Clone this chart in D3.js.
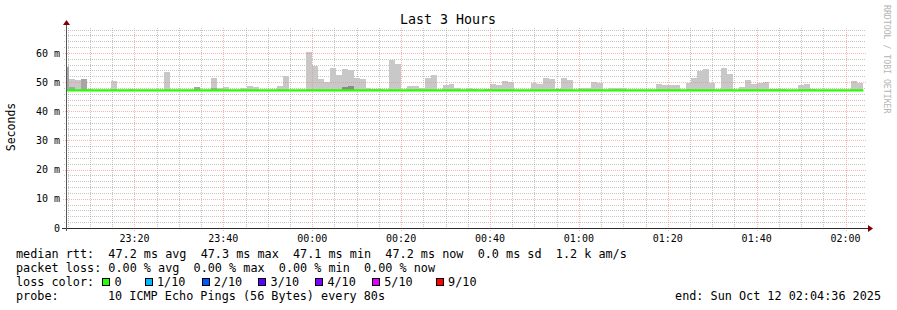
<!DOCTYPE html>
<html>
<head>
<meta charset="utf-8">
<script src="https://cdn.jsdelivr.net/npm/d3@7/dist/d3.min.js"></script>
<style>
  body { margin: 0; background: #fff; }
  text { font-family: "DejaVu Sans Mono", monospace; white-space: pre; fill: #000; }
</style>
</head>
<body>
<div id="chart"></div>
<script>
// smokeping data, one value per 80s step (23:04:00 .. 02:04:00 UTC)
const smokeMax = [
  55.2, 51.1, 50.6, 51.1, 47.8, 47.4, 47.4, 47.4, 50.4, 47.4,
  47.4, 47.7, 47.4, 47.4, 47.4, 47.4, 47.4, 53.5, 47.4, 47.4,
  47.4, 47.4, 48.3, 47.4, 47.4, 51.4, 48.0, 48.3, 47.4, 47.4,
  48.0, 48.7, 48.3, 47.4, 47.4, 47.4, 48.7, 52.1, 47.4, 47.4,
  47.4, 60.3, 55.6, 51.1, 50.1, 54.8, 52.5, 54.5, 54.2, 51.4,
  51.1, 48.0, 47.7, 47.7, 47.4, 57.6, 56.2, 47.4, 48.7, 48.7,
  48.0, 51.4, 52.5, 47.4, 49.0, 49.4, 48.0, 47.4, 48.0, 47.7,
  47.4, 47.7, 49.4, 49.0, 50.4, 49.9, 47.4, 47.4, 47.4, 49.8,
  49.4, 51.4, 51.1, 47.8, 51.4, 50.7, 47.4, 48.0, 48.0, 50.1,
  49.7, 47.4, 48.0, 48.0, 48.0, 47.4, 47.4, 47.4, 47.4, 47.4,
  49.4, 49.0, 49.0, 49.0, 47.4, 49.8, 51.4, 53.8, 54.5, 49.7,
  47.4, 54.8, 52.8, 47.4, 48.3, 50.7, 49.4, 49.8, 50.1, 47.8,
  47.8, 47.8, 47.4, 47.4, 49.0, 49.4, 47.8, 47.4, 47.4, 47.4,
  47.4, 47.4, 47.4, 50.4, 49.8
];
const smokeMin = 47.0;
// [step index, top of the darker smoke]
const darkSmoke = [[0, 55.2], [1, 48.3], [3, 51.1], [22, 48.3], [25, 48.0], [47, 48.3], [48, 48.7], [83, 47.8]];

const medianRtt = [
  47.2, 47.2, 47.2, 47.2, 47.2, 47.2, 47.2, 47.2, 47.2, 47.2,
  47.2, 47.2, 47.2, 47.2, 47.2, 47.2, 47.2, 47.2, 47.2, 47.2,
  47.2, 47.2, 47.2, 47.2, 47.2, 47.2, 47.2, 47.2, 47.2, 47.2,
  47.2, 47.2, 47.2, 47.2, 47.2, 47.2, 47.2, 47.2, 47.2, 47.2,
  47.2, 47.2, 47.2, 47.2, 47.2, 47.2, 47.2, 47.2, 47.2, 47.2,
  47.2, 47.2, 47.2, 47.2, 47.2, 47.2, 47.2, 47.2, 47.2, 47.2,
  47.2, 47.2, 47.2, 47.2, 47.2, 47.2, 47.2, 47.2, 47.2, 47.2,
  47.2, 47.2, 47.2, 47.2, 47.2, 47.2, 47.2, 47.2, 47.2, 47.2,
  47.2, 47.2, 47.2, 47.2, 47.2, 47.2, 47.2, 47.2, 47.2, 47.2,
  47.2, 47.2, 47.2, 47.2, 47.2, 47.2, 47.2, 47.2, 47.2, 47.2,
  47.2, 47.2, 47.2, 47.2, 47.2, 47.2, 47.2, 47.2, 47.2, 47.2,
  47.2, 47.2, 47.2, 47.2, 47.2, 47.2, 47.2, 47.2, 47.2, 47.2,
  47.2, 47.2, 47.2, 47.2, 47.2, 47.2, 47.2, 47.2, 47.2, 47.2,
  47.2, 47.2, 47.2, 47.2, 47.2
];

const statLines = [
  "median rtt:  47.2 ms avg  47.3 ms max  47.1 ms min  47.2 ms now  0.0 ms sd  1.2 k am/s",
  "packet loss: 0.00 % avg  0.00 % max  0.00 % min  0.00 % now"
];
const lossLabels = ["0", "1/10", "2/10", "3/10", "4/10", "5/10", "9/10"];
const lossColors = ["#26ff00", "#00b8ff", "#0059ff", "#5e00ff", "#7e00ff", "#dd00ff", "#ff0000"];
const probeText = "10 ICMP Echo Pings (56 Bytes) every 80s";
const endText = "end: Sun Oct 12 02:04:36 2025";
const title = "Last 3 Hours";

const width = 897, height = 310;
const pLeft = 66, pRight = 866, pTop = 28, pBottom = 228;

const tStart = new Date(Date.UTC(2025, 9, 11, 23, 4, 36));
const tEnd = new Date(Date.UTC(2025, 9, 12, 2, 4, 36));
const firstStep = Date.UTC(2025, 9, 11, 23, 4, 0);
const step = 80000;

const x = d3.scaleUtc().domain([tStart, tEnd]).range([pLeft, pRight]);
const y = d3.scaleLinear().domain([0, 68.57]).range([pBottom, pTop]);

const svg = d3.select("#chart").append("svg")
  .attr("width", width)
  .attr("height", height);

svg.append("rect").attr("width", width).attr("height", height).attr("fill", "#fff");

const stepX0 = i => Math.max(pLeft, x(new Date(firstStep + i * step)));
const stepX1 = i => Math.min(pRight, x(new Date(firstStep + (i + 1) * step)));

// minor grid
const grid = svg.append("g").attr("shape-rendering", "crispEdges");
const minorT = x.ticks(d3.utcMinute.every(5));
const majorT = x.ticks(d3.utcMinute.every(20));
grid.selectAll(".vmin").data(minorT.filter(d => d.getUTCMinutes() % 20 !== 0)).join("line")
  .attr("x1", d => Math.round(x(d)) + 0.5).attr("x2", d => Math.round(x(d)) + 0.5)
  .attr("y1", pTop).attr("y2", pBottom + 2)
  .attr("stroke", "rgba(140,140,140,0.5)").attr("stroke-dasharray", "1,1");
grid.selectAll(".hmin").data(d3.range(2, 69, 2).filter(v => v % 10 !== 0)).join("line")
  .attr("y1", v => Math.round(y(v)) + 0.5).attr("y2", v => Math.round(y(v)) + 0.5)
  .attr("x1", pLeft - 2).attr("x2", pRight)
  .attr("stroke", "rgba(140,140,140,0.5)").attr("stroke-dasharray", "1,1");

// smoke
const plot = svg.append("g").attr("shape-rendering", "crispEdges");
plot.selectAll(".smoke").data(smokeMax).join("rect")
  .attr("x", (d, i) => stepX0(i))
  .attr("width", (d, i) => stepX1(i) - stepX0(i))
  .attr("y", d => y(d))
  .attr("height", d => y(smokeMin) - y(d))
  .attr("fill", "#c8c8c8");
plot.selectAll(".dark").data(darkSmoke).join("rect")
  .attr("x", d => stepX0(d[0]))
  .attr("width", d => stepX1(d[0]) - stepX0(d[0]))
  .attr("y", d => y(d[1]))
  .attr("height", d => y(smokeMin) - y(d[1]))
  .attr("fill", d => d[0] >= 47 && d[0] <= 48 ? "#8a8a8a" : "#a6a6a6");

// major grid
const mgrid = svg.append("g").attr("shape-rendering", "crispEdges");
mgrid.selectAll(".vmaj").data(majorT).join("line")
  .attr("x1", d => Math.round(x(d)) + 0.5).attr("x2", d => Math.round(x(d)) + 0.5)
  .attr("y1", pTop).attr("y2", pBottom + 3)
  .attr("stroke", "rgba(255,128,128,0.6)").attr("stroke-dasharray", "1,1");
mgrid.selectAll(".hmaj").data(d3.range(10, 69, 10)).join("line")
  .attr("y1", v => Math.round(y(v)) + 0.5).attr("y2", v => Math.round(y(v)) + 0.5)
  .attr("x1", pLeft - 3).attr("x2", pRight)
  .attr("stroke", "rgba(255,128,128,0.6)").attr("stroke-dasharray", "1,1");

// median line
const medLine = d3.line()
  .x(d => d[0])
  .y(d => y(d[1]))
  .curve(d3.curveStepAfter);
const medPts = medianRtt.map((v, i) => [stepX0(i), v]);
medPts.push([stepX1(medianRtt.length - 1), medianRtt[medianRtt.length - 1]]);
svg.append("path")
  .attr("d", medLine(medPts))
  .attr("fill", "none")
  .attr("stroke", lossColors[0])
  .attr("stroke-width", 2.4);

// axes
const ax = svg.append("g").attr("shape-rendering", "crispEdges");
ax.append("line").attr("x1", pLeft - 4).attr("x2", pRight + 2).attr("y1", pBottom + 0.5).attr("y2", pBottom + 0.5)
  .attr("stroke", "#2c2c2c");
ax.append("line").attr("x1", pLeft + 0.5).attr("x2", pLeft + 0.5).attr("y1", pBottom + 3).attr("y2", pTop - 4)
  .attr("stroke", "#555");
svg.append("path").attr("d", `M${pRight + 2},${pBottom - 3}L${pRight + 7},${pBottom + 0.5}L${pRight + 2},${pBottom + 4}Z`)
  .attr("fill", "#7f0000");
svg.append("path").attr("d", `M${pLeft - 3},${pTop - 3}L${pLeft + 0.5},${pTop - 8}L${pLeft + 4},${pTop - 3}Z`)
  .attr("fill", "#7f0000");

// tick labels
svg.append("g").selectAll("text").data(majorT).join("text")
  .attr("x", d => x(d)).attr("y", 241.5)
  .attr("text-anchor", "middle")
  .attr("font-size", "10px")
  .text(d => d3.utcFormat("%H:%M")(d));
svg.append("g").selectAll("text").data(d3.range(0, 61, 10)).join("text")
  .attr("x", 60).attr("y", v => y(v) + 3.6)
  .attr("text-anchor", "end")
  .attr("font-size", "10px")
  .text(v => v === 0 ? "0" : v + " m");

svg.append("text")
  .attr("transform", "translate(15,127) rotate(-90)")
  .attr("text-anchor", "middle")
  .attr("font-size", "11.5px")
  .text("Seconds");

svg.append("text")
  .attr("x", 448).attr("y", 24)
  .attr("text-anchor", "middle")
  .attr("font-size", "13.3px")
  .text(title);

svg.append("text")
  .attr("transform", "translate(884,5) rotate(90)")
  .attr("font-size", "8.2px")
  .style("fill", "#b4b4b4")
  .text("RRDTOOL / TOBI OETIKER");

// legend
const fs = "11.8px";
const cw = 7.1;
const leg = svg.append("g").attr("font-size", fs);
leg.selectAll(".stat").data(statLines).join("text")
  .attr("x", 16).attr("y", (d, i) => 258 + i * 14)
  .text(d => d);
leg.append("text").attr("x", 16).attr("y", 286).text("loss color:");
const lossCols = [12, 18, 26, 34, 42, 50, 59];
leg.selectAll(".lbox").data(lossColors).join("rect")
  .attr("x", (d, i) => 16 + lossCols[i] * cw + 1.5)
  .attr("y", 278.5)
  .attr("width", 7).attr("height", 7)
  .attr("fill", d => d)
  .attr("stroke", "#000").attr("stroke-width", 1)
  .attr("shape-rendering", "crispEdges");
leg.selectAll(".ltxt").data(lossLabels).join("text")
  .attr("x", (d, i) => 16 + (lossCols[i] + 2) * cw - 1)
  .attr("y", 286)
  .text(d => d);
leg.append("text").attr("x", 16).attr("y", 300).text("probe:");
leg.append("text").attr("x", 108).attr("y", 300).text(probeText);
leg.append("text").attr("x", 881).attr("y", 300).attr("text-anchor", "end").text(endText);
</script>
</body>
</html>
